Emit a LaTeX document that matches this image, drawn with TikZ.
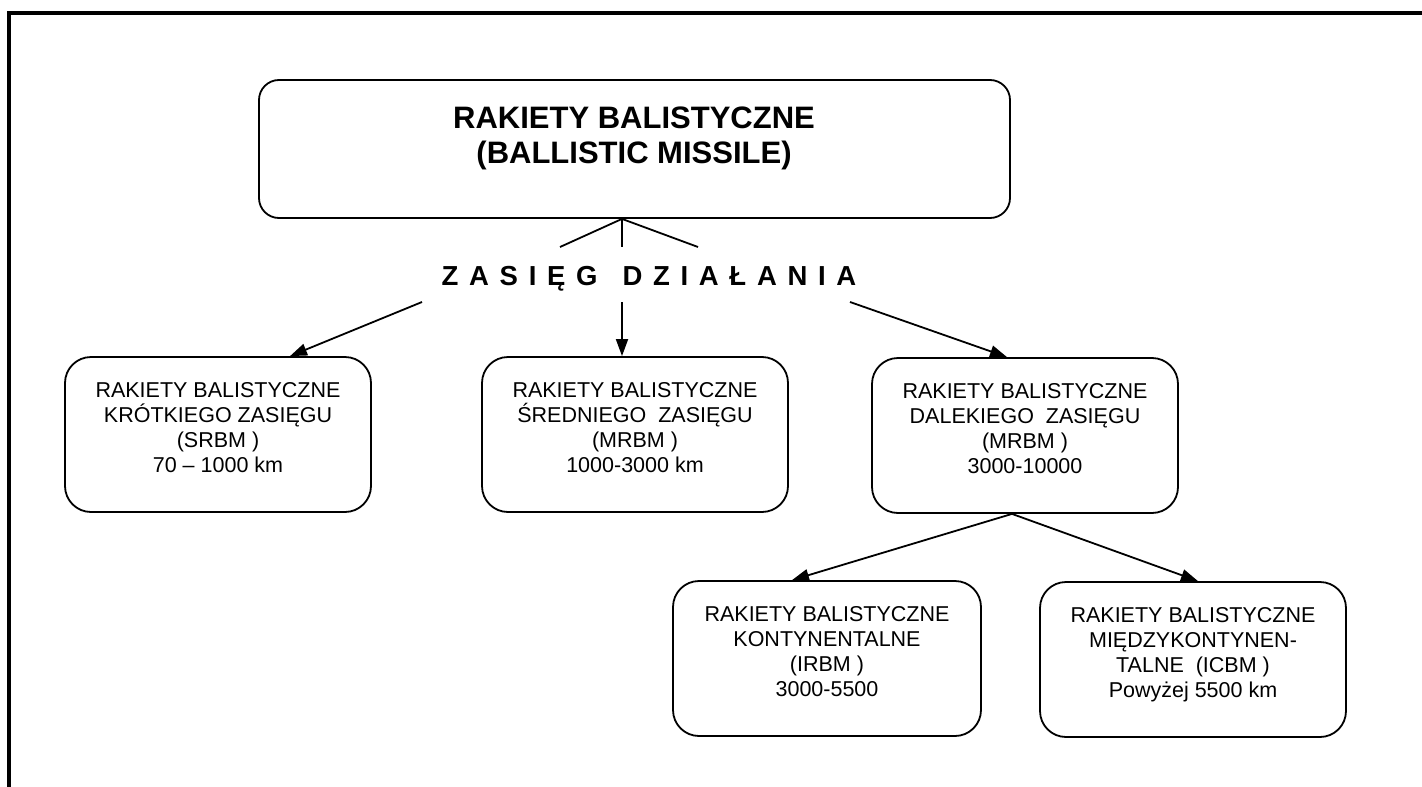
\documentclass[tikz,border=0pt]{standalone}
\usepackage{fontspec}
\setmainfont{Liberation Sans}
\usetikzlibrary{arrows.meta}
% letter spacing for the range heading
\newcommand\trk{\kern10.7pt}
\newcommand\wgap{\kern25pt}
\begin{document}
\begin{tikzpicture}[x=1pt,y=-1pt,
  frame/.style={line width=4pt, line join=miter},
  card/.style={draw, line width=1.8pt, rounded corners=26pt,
    minimum width=306pt, minimum height=155pt, inner sep=0pt},
  cardtext/.style={anchor=north, inner sep=0pt, align=center,
    font=\fontsize{21.5}{25}\selectfont},
  link/.style={line width=1.8pt},
  arrow/.style={line width=1.8pt, -{Triangle[length=17pt,width=12pt]}}]
\useasboundingbox (0,0) rectangle (1422,787);

% outer frame (top and left edges)
\draw[frame] (9,800) -- (9,13) -- (1430,13);

% main heading box
\node[draw, line width=1.8pt, rounded corners=20pt, minimum width=751pt,
  minimum height=138pt, inner sep=0pt] (top) at (634.5,149) {};
\node[anchor=north, inner sep=0pt, align=center,
  font=\bfseries\fontsize{31}{35}\selectfont] (title) at (634,107)
  {RAKIETY BALISTYCZNE\\(BALLISTIC MISSILE)};

% short strokes under the heading box
\coordinate (apex) at ([xshift=-12.5pt]top.south);
\coordinate (sl) at (560,247);
\coordinate (sm) at (622,247);
\coordinate (sr) at (698,247);
\draw[link] (apex) -- (sl);
\draw[link] (apex) -- (sm);
\draw[link] (apex) -- (sr);

% range heading
\node[anchor=base, inner sep=0pt, font=\bfseries\fontsize{27.5}{31}\selectfont]
  (zs) at (649,285)
  {Z\trk A\trk S\trk I\trk Ę\trk G\wgap D\trk Z\trk I\trk A\trk Ł\trk A\trk N\trk I\trk A};

% range classes
\node[card] (b1) at (218,434.5) {};
\node[cardtext] (t1) at (218,382)
  {RAKIETY BALISTYCZNE\\KRÓTKIEGO ZASIĘGU\\(SRBM )\\70 – 1000 km};
\node[card] (b2) at (635,434.5) {};
\node[cardtext] (t2) at (635,382)
  {RAKIETY BALISTYCZNE\\ŚREDNIEGO\ \ ZASIĘGU\\(MRBM )\\1000-3000 km};
\node[card] (b3) at (1025,435.5) {};
\node[cardtext] (t3) at (1025,383)
  {RAKIETY BALISTYCZNE\\DALEKIEGO\ \ ZASIĘGU\\(MRBM )\\3000-10000};
\node[card, minimum width=308pt] (b4) at (827,658.5) {};
\node[cardtext] (t4) at (827,606)
  {RAKIETY BALISTYCZNE\\KONTYNENTALNE\\(IRBM )\\3000-5500};
\node[card] (b5) at (1193,659.5) {};
\node[cardtext] (t5) at (1193,607)
  {RAKIETY BALISTYCZNE\\MIĘDZYKONTYNEN-\\TALNE\ \ (ICBM )\\Powyżej 5500 km};

% arrows from the range heading
\coordinate (zl) at (422,302);
\coordinate (zm) at (622,302);
\coordinate (zr) at (850,302);
\draw[arrow] (zl) -- ([xshift=72pt]b1.north);
\draw[arrow] (zm) -- ([xshift=-13pt]b2.north);
\draw[arrow] (zr) -- ([xshift=-18pt]b3.north);

% long-range split
\draw[arrow] ([xshift=-13pt]b3.south) -- ([xshift=-35pt]b4.north);
\draw[arrow] ([xshift=-13pt]b3.south) -- ([xshift=5pt]b5.north);
\end{tikzpicture}
\end{document}
